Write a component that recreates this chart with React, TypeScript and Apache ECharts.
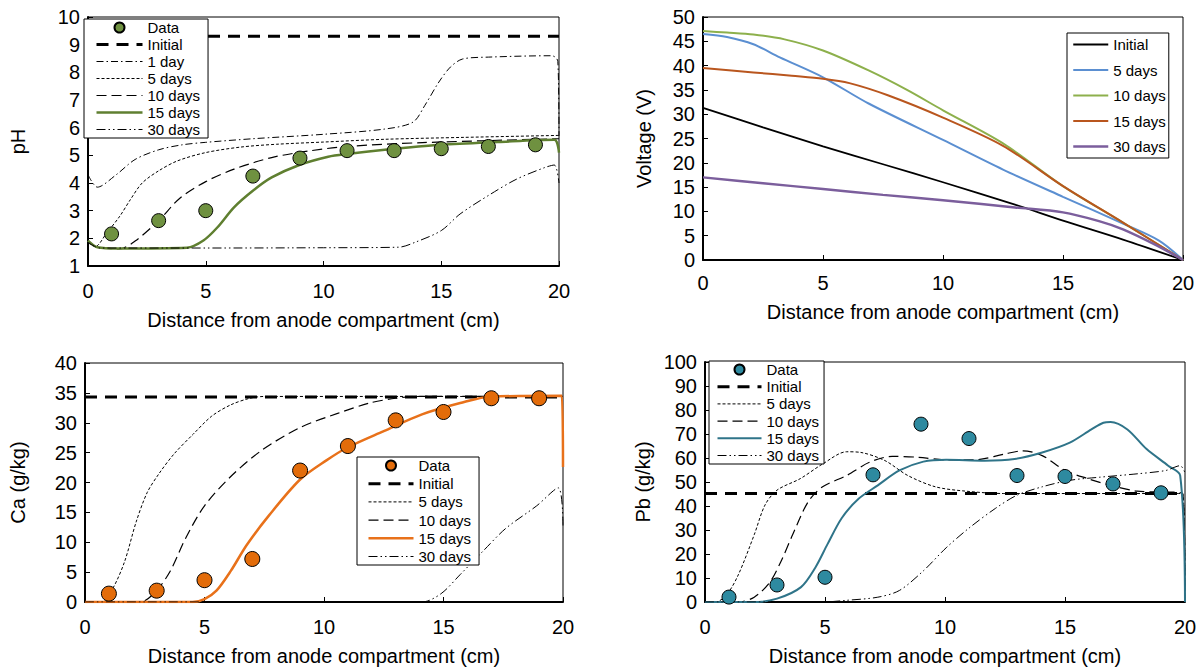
import React, { useEffect, useRef } from "react";
import * as echarts from "echarts";

const FONT = "'Liberation Sans', Arial, Helvetica, sans-serif";
const X_TITLE = "Distance from anode compartment (cm)";

// ---------- shared ----------
const sampleX = [1, 3, 5, 7, 9, 11, 13, 15, 17, 19];

// ---------- pH panel ----------
const phData = [2.16, 2.64, 3.0, 4.25, 4.9, 5.17, 5.17, 5.24, 5.32, 5.38];
const phInitial = [[0, 9.3], [20, 9.3]];
const ph1Day = [[0, 4.3], [0.4, 3.85], [1.2, 4.3], [2, 4.85], [3, 5.2], [4, 5.38], [5, 5.47], [7, 5.6], [10, 5.76], [12.6, 5.95], [13.8, 6.2], [14.3, 6.8], [14.9, 7.65], [15.4, 8.2], [15.9, 8.48], [17, 8.55], [19.7, 8.6], [19.95, 8.4], [20, 5.7]];
const ph5Day = [[0, 1.85], [0.3, 1.7], [0.8, 2.2], [1.35, 2.8], [1.8, 3.4], [2.3, 4.0], [3, 4.44], [3.8, 4.8], [5, 5.1], [6.5, 5.3], [8, 5.4], [10, 5.48], [12.6, 5.58], [16, 5.65], [20, 5.72]];
const ph10Day = [[0, 1.86], [0.4, 1.68], [1.35, 1.62], [2, 1.9], [3, 2.64], [3.9, 3.45], [5, 4.05], [6.2, 4.5], [7.8, 4.92], [9.4, 5.16], [11, 5.32], [14.2, 5.46], [20, 5.6]];
const ph15Day = [[0, 1.92], [0.4, 1.68], [1.3, 1.63], [4.2, 1.66], [4.9, 1.92], [5.5, 2.4], [6.2, 3.12], [7, 3.72], [7.8, 4.2], [9, 4.66], [10.2, 4.95], [11, 5.05], [12.6, 5.2], [15, 5.38], [17.4, 5.48], [19.8, 5.56], [20, 5.1]];
const ph30Day = [[0, 1.86], [0.5, 1.65], [5, 1.65], [10, 1.66], [13.2, 1.68], [13.9, 1.86], [15, 2.28], [15.8, 2.88], [17.1, 3.6], [18.2, 4.14], [19.4, 4.56], [19.8, 4.65], [20, 4.0]];

// ---------- Voltage panel ----------
const vInitial = [[0, 31.3], [2.5, 27.3], [5, 23.4], [7.5, 19.7], [10, 16], [13, 11.4], [15, 8.1], [17.5, 4.2], [20, 0]];
const v5Day = [[0, 46.5], [1, 45.9], [2.1, 44.4], [3.2, 41.7], [5, 37.6], [6.9, 32.2], [10, 24.7], [12.5, 18.6], [15, 13], [17.5, 7.5], [19, 4], [20, 0]];
const v10Day = [[0, 47.1], [1, 46.8], [2.1, 46.4], [3.4, 45.4], [5, 43.1], [6.9, 39], [8.5, 35], [10, 30.8], [12.5, 24], [15, 15.2], [17.5, 7.7], [20, 0]];
const v15Day = [[0, 39.5], [2.1, 38.6], [3.7, 37.9], [5, 37.3], [6.1, 36.4], [7.7, 33.9], [10, 29.3], [12.5, 23.5], [15, 15.2], [17.5, 7.7], [20, 0]];
const v30Day = [[0, 17], [2.5, 15.8], [5, 14.6], [7.5, 13.4], [10, 12.3], [13, 10.8], [15, 9.8], [16.5, 8.0], [17.5, 6.3], [18.9, 3.0], [20, 0]];

// ---------- Ca panel ----------
const caData = [1.4, 1.9, 3.65, 7.2, 22, 26.1, 30.4, 31.8, 34.1, 34.1];
const caInitial = [[0, 34.3], [20, 34.3]];
const ca5Day = [[0, 0], [0.7, 0], [1.18, 2.4], [1.66, 6.8], [2.14, 13.4], [2.6, 18.3], [3.1, 21.5], [3.73, 24.8], [4.53, 28.1], [5.3, 31.1], [6.1, 33], [6.9, 34.1], [7.5, 34.4], [20, 34.4]];
const ca10Day = [[0, 0], [2.3, 0], [2.93, 1.6], [3.57, 5.2], [4.2, 10.6], [5, 16.1], [6.1, 21], [7.4, 25.4], [9, 29.2], [10.6, 31.6], [11.9, 33.3], [13, 34.1], [14, 34.4], [20, 34.4]];
const ca15Day = [[0, 0], [4.5, 0], [5, 0.5], [5.5, 1.9], [6.1, 5.2], [6.76, 9.5], [7.7, 14.5], [9, 20.5], [10.1, 23.7], [11, 25.9], [12.5, 28.6], [14.1, 31.4], [15.7, 33.3], [17, 34.4], [19.95, 34.5], [20, 22.6]];
const ca30Day = [[0, 0], [14.1, 0], [14.9, 1.4], [15.7, 4.6], [16.65, 8.5], [17.6, 12.3], [18.9, 16.1], [19.8, 19.1], [20, 12.8]];

// ---------- Pb panel ----------
const pbData = [2.05, 7.1, 10.3, 53, 74.1, 68.1, 52.7, 52.3, 49.2, 45.5];
const pbInitial = [[0, 45.2], [20, 45.2]];
const pb5Day = [[0, 0], [0.45, 0], [0.93, 3.4], [1.4, 11.6], [2.05, 28], [2.5, 40.4], [3, 46.6], [3.97, 51.4], [4.9, 57.5], [5.9, 62.6], [6.5, 62.3], [7.5, 58.9], [8.45, 52.7], [9.6, 48], [10.85, 46.2], [12.45, 45.2], [19.9, 45.2], [20, 0]];
const pb10Day = [[0, 0], [1.4, 0], [2.05, 2], [2.7, 8.2], [3.17, 17], [3.65, 28], [4.3, 41.8], [4.9, 48], [5.9, 52.7], [6.85, 58.2], [7.8, 60.7], [8.9, 60.3], [10.05, 59.2], [11.3, 59.3], [12.45, 61.6], [13.25, 63], [14.05, 61], [15, 54.8], [15.95, 51.4], [16.9, 48.6], [18, 46.2], [19.9, 45.2], [20, 0]];
const pb15Day = [[0, 0], [2.05, 0], [3, 1.4], [4, 6.2], [4.6, 14.4], [5.1, 24], [5.7, 35], [6.4, 43], [7.2, 48.6], [8.1, 54.8], [9.1, 58.5], [10.05, 59.3], [11.65, 58.9], [12.9, 59.6], [14.05, 62.3], [15.2, 66.4], [16.1, 71.9], [16.6, 74.7], [16.9, 75], [17.6, 71.9], [18.4, 63.7], [19.3, 56.8], [19.8, 52.7], [20, 0]];
const pb30Day = [[0, 0], [4.9, 0], [5.9, 0.7], [7.2, 2], [8.1, 4.8], [9.1, 13], [10.05, 22.6], [11, 30.8], [12.1, 39], [13, 44.5], [14.05, 48], [15.2, 50.7], [16.45, 52], [18, 53.4], [19.2, 54.8], [19.8, 56.8], [20, 53.8]];

// ---------- styles ----------
type LS = { color: string; width: number; type: any };
const S_INITIAL: LS = { color: "#000", width: 3, type: [12, 8] };
const S_1DAY: LS = { color: "#000", width: 1, type: [7, 3, 1.5, 3] };
const S_5DAY: LS = { color: "#000", width: 1, type: [3, 2] };
const S_10DAY: LS = { color: "#000", width: 1.2, type: [10, 5] };
const S_30DAY: LS = { color: "#000", width: 1, type: [9, 3, 1.5, 3, 1.5, 3] };

function lineSeries(name: string, data: number[][], ls: LS, smooth = 0.3) {
  return {
    type: "line",
    name,
    data,
    smooth,
    symbol: "none",
    lineStyle: { color: ls.color, width: ls.width, type: ls.type },
    itemStyle: { color: ls.color },
    z: 2,
  };
}

function scatterSeries(values: number[], fill: string, size = 14) {
  return {
    type: "scatter",
    name: "Data",
    data: sampleX.map((x, i) => [x, values[i]]),
    symbol: "circle",
    symbolSize: size,
    itemStyle: { color: fill, borderColor: "#000", borderWidth: 1, opacity: 1 },
    z: 5,
  };
}

function xAxisCfg(nameGap: number, margin: number) {
  return {
    type: "value",
    min: 0,
    max: 20,
    interval: 5,
    name: X_TITLE,
    nameLocation: "middle",
    nameGap,
    nameTextStyle: { fontSize: 20, color: "#000", fontFamily: FONT },
    axisLine: { show: true, onZero: false, lineStyle: { color: "#000", width: 2 } },
    axisTick: { show: true, inside: true, length: 5, lineStyle: { color: "#000", width: 1 } },
    axisLabel: { fontSize: 20, color: "#000", fontFamily: FONT, margin },
    splitLine: { show: false },
  };
}

function yAxisCfg(name: string, min: number, max: number, interval: number, nameGap: number) {
  return {
    type: "value",
    min,
    max,
    interval,
    name,
    nameLocation: "middle",
    nameGap,
    nameTextStyle: { fontSize: 20, color: "#000", fontFamily: FONT },
    axisLine: { show: true, onZero: false, lineStyle: { color: "#000", width: 2 } },
    axisTick: { show: true, inside: true, length: 5, lineStyle: { color: "#000", width: 1 } },
    axisLabel: { fontSize: 20, color: "#000", fontFamily: FONT, margin: 8 },
    splitLine: { show: false },
  };
}

function legendCfg(
  items: { name: string; width?: number; icon?: string }[],
  left: number,
  top: number,
  itemWidth: number,
  itemGap: number,
  padding: number[]
) {
  return {
    show: true,
    orient: "vertical",
    left,
    top,
    itemWidth,
    itemHeight: 10,
    itemGap,
    padding,
    backgroundColor: "#fff",
    borderColor: "#000",
    borderWidth: 1,
    borderRadius: 0,
    selectedMode: false,
    textStyle: { fontSize: 15, lineHeight: 15, color: "#000", fontFamily: FONT },
    data: items.map((it) =>
      it.icon
        ? { name: it.name, icon: it.icon }
        : {
            name: it.name,
            lineStyle: { width: it.width },
            itemStyle: { opacity: 0, color: "transparent", borderWidth: 0 },
          }
    ),
  };
}

function gridCfg(left: number, top: number, width: number, height: number) {
  return { left, top, width, height, show: true, borderColor: "#000", borderWidth: 1, backgroundColor: "transparent" };
}

// ---------- options ----------
const PH_GREEN = "#5f7f30";
const CA_ORANGE = "#e8711a";
const PB_TEAL = "#2f7489";

const optPH = {
  animation: false,
  grid: gridCfg(84, 17, 475, 250),
  xAxis: xAxisCfg(44, 15),
  yAxis: yAxisCfg("pH", 1, 10, 1, 60),
  legend: legendCfg(
    [
      { name: "Data", icon: "circle" },
      { name: "Initial", width: 3 },
      { name: "1 day", width: 1 },
      { name: "5 days", width: 1 },
      { name: "10 days", width: 1.2 },
      { name: "15 days", width: 2.5 },
      { name: "30 days", width: 1 },
    ],
    84,
    19,
    46,
    2,
    [1, 8, 1, 11]
  ),
  series: [
    lineSeries("Initial", phInitial, S_INITIAL, 0),
    lineSeries("1 day", ph1Day, S_1DAY),
    lineSeries("5 days", ph5Day, S_5DAY),
    lineSeries("10 days", ph10Day, S_10DAY),
    lineSeries("15 days", ph15Day, { color: PH_GREEN, width: 2.5, type: "solid" }),
    lineSeries("30 days", ph30Day, S_30DAY),
    scatterSeries(phData, "#6f9140"),
  ],
};

const optV = {
  animation: false,
  grid: gridCfg(102, 17, 480, 243),
  xAxis: xAxisCfg(42, 13),
  yAxis: yAxisCfg("Voltage (V)", 0, 50, 5, 49),
  legend: legendCfg(
    [
      { name: "Initial", width: 1.8 },
      { name: "5 days", width: 2 },
      { name: "10 days", width: 2 },
      { name: "15 days", width: 2 },
      { name: "30 days", width: 2.5 },
    ],
    466,
    33,
    35,
    10.5,
    [4, 3, 4, 5]
  ),
  series: [
    lineSeries("Initial", vInitial, { color: "#000", width: 1.8, type: "solid" }),
    lineSeries("5 days", v5Day, { color: "#5b8fd1", width: 2, type: "solid" }),
    lineSeries("10 days", v10Day, { color: "#8db04c", width: 2, type: "solid" }),
    lineSeries("15 days", v15Day, { color: "#b9561e", width: 2, type: "solid" }),
    lineSeries("30 days", v30Day, { color: "#7b5e9c", width: 2.5, type: "solid" }),
  ],
};

const optCa = {
  animation: false,
  grid: gridCfg(83, 28, 480, 240),
  xAxis: xAxisCfg(44, 15),
  yAxis: yAxisCfg("Ca (g/kg)", 0, 40, 5, 57),
  legend: legendCfg(
    [
      { name: "Data", icon: "circle" },
      { name: "Initial", width: 3 },
      { name: "5 days", width: 1 },
      { name: "10 days", width: 1.2 },
      { name: "15 days", width: 2.5 },
      { name: "30 days", width: 1 },
    ],
    357,
    122,
    45,
    3.2,
    [1, 8, 1, 10]
  ),
  series: [
    lineSeries("Initial", caInitial, S_INITIAL, 0),
    lineSeries("5 days", ca5Day, S_5DAY),
    lineSeries("10 days", ca10Day, S_10DAY),
    lineSeries("15 days", ca15Day, { color: CA_ORANGE, width: 2.5, type: "solid" }),
    lineSeries("30 days", ca30Day, S_30DAY),
    scatterSeries(caData, "#e36c0a", 15),
  ],
};

const optPb = {
  animation: false,
  grid: gridCfg(104, 27, 480, 241),
  xAxis: xAxisCfg(44, 15),
  yAxis: yAxisCfg("Pb (g/kg)", 0, 100, 10, 38),
  legend: legendCfg(
    [
      { name: "Data", icon: "circle" },
      { name: "Initial", width: 3 },
      { name: "5 days", width: 1 },
      { name: "10 days", width: 1.2 },
      { name: "15 days", width: 2 },
      { name: "30 days", width: 1 },
    ],
    108,
    26,
    44,
    2.2,
    [1, 5, 1, 7]
  ),
  series: [
    lineSeries("Initial", pbInitial, S_INITIAL, 0),
    lineSeries("5 days", pb5Day, S_5DAY),
    lineSeries("10 days", pb10Day, S_10DAY),
    lineSeries("15 days", pb15Day, { color: PB_TEAL, width: 2, type: "solid" }),
    lineSeries("30 days", pb30Day, S_30DAY),
    scatterSeries(pbData, "#2e8aa0", 14),
  ],
};

function Chart({ option, style }: { option: any; style: React.CSSProperties }) {
  const ref = useRef<HTMLDivElement>(null);
  useEffect(() => {
    if (!ref.current) return;
    const chart = echarts.init(ref.current, null, { renderer: "svg" });
    chart.setOption(option);
    return () => chart.dispose();
  }, [option]);
  return <div ref={ref} style={style} />;
}

export default function App() {
  return (
    <div style={{ position: "fixed", left: 0, top: 0, width: 1202, height: 671, background: "#fff" }}>
      <Chart option={optPH} style={{ position: "absolute", left: 0, top: 0, width: 601, height: 335 }} />
      <Chart option={optV} style={{ position: "absolute", left: 601, top: 0, width: 601, height: 335 }} />
      <Chart option={optCa} style={{ position: "absolute", left: 0, top: 335, width: 601, height: 336 }} />
      <Chart option={optPb} style={{ position: "absolute", left: 601, top: 335, width: 601, height: 336 }} />
    </div>
  );
}
